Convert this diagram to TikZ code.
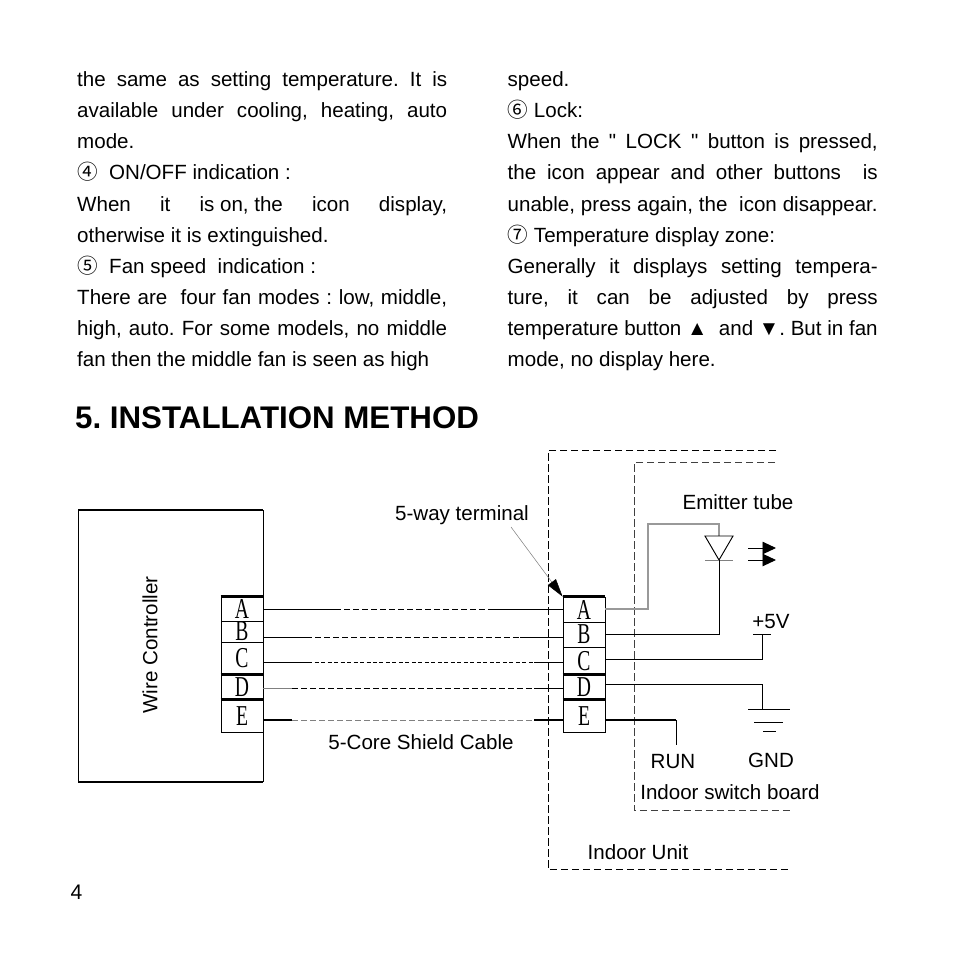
\documentclass[tikz,border=0pt]{standalone}
\usepackage{fontspec}
\setmainfont{Liberation Sans}
\newfontfamily\plainfont{Liberation Sans}
\newfontfamily\circfont{Noto Sans CJK SC}
\newfontfamily\termfont[FakeStretch=0.68]{Liberation Serif}
\usetikzlibrary{arrows.meta}
\tikzset{
	label/.style={inner sep=0pt,font=\fontsize{5.85}{7}\selectfont},
	column/.style={inner sep=0pt,anchor=north west,align=left,font=\fontsize{5.85}{8.85}\selectfont\frenchspacing},
	cell/.style={draw,line width=0.25pt,inner sep=0pt,minimum width=4.2mm,font=\fontsize{8.2}{9}\termfont},
	wire/.style={line width=0.27pt},
	heavy/.style={line width=0.65pt},
	board/.style={line width=0.27pt,dash pattern=on 0.75mm off 0.35mm},
	cable/.style={line width=0.27pt,dash pattern=on 0.6mm off 0.3mm}
}
\newcommand{\jl}[1]{\makebox[37mm][s]{#1}}
\begin{document}
\begin{tikzpicture}[x=0.1mm,y=-0.1mm]
	\useasboundingbox (0,0) rectangle (954,954);
	% text
	\node[column] (leftcol) at (76.5,71) {\jl{the same as setting temperature. It is}\\
		\jl{available under cooling, heating, auto}\\
		mode.\\
		{\circfont ④}\ \ ON/OFF indication :\\
		\jl{When\hfil\ it\hfil\ is on, the\hfil\ icon\hfil\ display,}\\
		otherwise it is extinguished.\\
		{\circfont ⑤}\ \ Fan speed\ \ indication :\\
		\jl{There are\ \ four fan modes : low, middle,}\\
		\jl{high, auto. For some models, no middle}\\
		fan then the middle fan is seen as high};
	\node[column] (rightcol) at (507,71) {speed.\\
		{\circfont ⑥} Lock:\\
		\jl{When the {\plainfont"} LOCK {\plainfont"} button is pressed,}\\
		\jl{the icon appear and other buttons\ \ is}\\
		\jl{unable, press again, the\ \ icon disappear.}\\
		{\circfont ⑦} Temperature display zone:\\
		\jl{Generally it displays setting tempera-}\\
		\jl{ture, it can be adjusted by press}\\
		\jl{temperature button ▲\ \ and ▼. But in fan}\\
		mode, no display here.};
	\node[inner sep=0pt,anchor=west,font=\fontsize{8.9}{10}\bfseries\selectfont\frenchspacing] (title) at (74.5,418) {5. INSTALLATION METHOD};
	\node[inner sep=0pt,anchor=west,font=\fontsize{6}{7}\selectfont] (page) at (70,892) {4};
	% controller
	\draw[heavy] (78,510) -- (263,510);
	\draw[heavy] (78,782) -- (263,782);
	\draw[wire] (78,510) -- (78,782);
	\draw[wire] (263,510) -- (263,782);
	\node[label,rotate=90] (ctrl) at (150,645) {Wire Controller};
	% terminals
	\foreach \n/\t/\y/\h in {la/A/609/24,lb/B/631.5/21,lc/C/658.5/33,ld/D/687.5/25,le/E/716/32}
		\node[cell,minimum height=\h*0.1mm] (\n) at (242,\y) {\t};
	\foreach \n/\t/\y/\h in {ra/A/609.5/25,rb/B/634.5/25,rc/C/661/28,rd/D/687.5/25,re/E/716/32}
		\node[cell,minimum height=\h*0.1mm] (\n) at (584,\y) {\t};
	\foreach \n in {la,ld,le,ra,rd,re}
		\draw[heavy] (\n.north west) -- (\n.north east);
	% cable
	\foreach \n/\y/\p/\q in {a/609/335/491,b/637/306/520,c/662/308/534,d/688/292/534,e/720/292/534} {
		\coordinate (w\n) at (263,\y);
		\coordinate (s\n) at (\p,\y);
		\coordinate (t\n) at (\q,\y);
		\coordinate (u\n) at (563,\y);
	}
	\draw[wire] (wa) -- (sa);
	\draw[wire] (ta) -- (ua);
	\draw[wire] (wb) -- (sb);
	\draw[wire] (tb) -- (ub);
	\draw[wire] (wc) -- (sc);
	\draw[wire] (tc) -- (uc);
	\draw[wire,gray] (wd) -- (sd);
	\draw[wire] (td) -- (ud);
	\draw[heavy] (we) -- (se);
	\draw[heavy] (te) -- (ue);
	\draw[cable] (sa) -- (ta);
	\draw[cable] (sb) -- (tb);
	\draw[wire,dash pattern=on 0.4mm off 0.25mm] (sc) -- (tc);
	\draw[cable] (sd) -- (td);
	\draw[cable,gray] (se) -- (te);
	\node[label] (cablelabel) at (421,742) {5-Core Shield Cable};
	% dashed frames
	\draw[board] (776,450) -- (548,450) -- (548,869) -- (790,869);
	\draw[board,black!75] (775,462) -- (634,462) -- (634,810) -- (790,810);
	\node[label] (unit) at (638,852) {Indoor Unit};
	\node[label] (switch) at (730,792) {Indoor switch board};
	% terminal leader
	\node[label] (way) at (462,515) {5-way terminal};
	\coordinate (wayend) at (511,527);
	\draw[line width=0.15pt,gray,-{Triangle[length=1.8mm,width=1mm,black]}] (wayend) -- (ra.north west);
	% emitter
	\node[label] (emitter) at (738,502) {Emitter tube};
	\coordinate (dtop) at (719,536);
	\coordinate (dbot) at (719,560);
	\draw[gray!80,line width=0.4pt] (605,609) -- (648,609) -- (648,524) -- (719,524) -- (dtop);
	\draw[wire] (705,536) -- (733,536) -- (dbot) -- cycle;
	\draw[wire,gray] (705,560) -- (733,560);
	\draw[wire] (605,634) -- (719,634) -- (dbot);
	\foreach \y in {548,560}
		\draw[wire,-{Triangle[length=1.35mm,width=1.25mm]}] (748,\y) -- (776,\y);
	% supply and ground
	\node[label] (five) at (771,622) {+5V};
	\draw[wire] (753,634) -- (771,634);
	\draw[wire] (605,659) -- (762,659) -- (762,634);
	\draw[wire] (605,684) -- (762,684) -- (762,709);
	\draw[wire] (748,709) -- (790,709);
	\draw[wire] (754,722) -- (783,722);
	\draw[wire] (763,731) -- (776,731);
	\node[label] (gnd) at (771,760) {GND};
	\draw[heavy] (605,720) -- (676,720);
	\draw[wire] (676,720) -- (676,745);
	\node[label] (run) at (673,762) {RUN};
\end{tikzpicture}
\end{document}
